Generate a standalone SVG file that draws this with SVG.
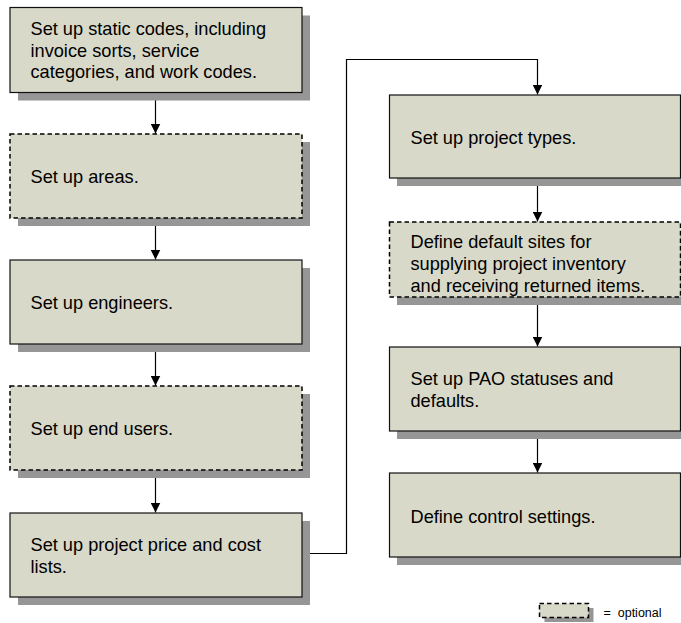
<svg xmlns="http://www.w3.org/2000/svg" width="681" height="623" viewBox="0 0 681 623">
<style>
.shadow{fill:#969696;stroke:none}
.box{fill:#d8d9c8;stroke:#111;stroke-width:1.2}
.opt{fill:#d8d9c8;stroke:#000;stroke-width:1.5;stroke-dasharray:4.5 3}
.t{font-family:"Liberation Sans",Arial,sans-serif;font-size:18.2px;fill:#000}
.leg{font-family:"Liberation Sans",Arial,sans-serif;font-size:12.5px;fill:#000}
.c{fill:none;stroke:#000;stroke-width:1.2}
</style>
<defs>
<marker id="ah" viewBox="0 0 10 10" refX="10" refY="5" markerWidth="10" markerHeight="10" markerUnits="userSpaceOnUse" orient="auto">
<path d="M0,0 L10,5 L0,10 Z" fill="#000"/>
</marker>
</defs>
<rect width="681" height="623" fill="#fff"/>

<g id="connectors">
<line class="c" x1="155.5" y1="92" x2="155.5" y2="133.5" marker-end="url(#ah)"/>
<line class="c" x1="155.5" y1="218" x2="155.5" y2="259.5" marker-end="url(#ah)"/>
<line class="c" x1="155.5" y1="344" x2="155.5" y2="385.5" marker-end="url(#ah)"/>
<line class="c" x1="155.5" y1="470" x2="155.5" y2="512.5" marker-end="url(#ah)"/>
<polyline class="c" points="302,553.5 346.5,553.5 346.5,59.5 537.5,59.5 537.5,94.5" marker-end="url(#ah)"/>
<line class="c" x1="537.5" y1="178" x2="537.5" y2="221.5" marker-end="url(#ah)"/>
<line class="c" x1="537.5" y1="297" x2="537.5" y2="346.5" marker-end="url(#ah)"/>
<line class="c" x1="537.5" y1="431" x2="537.5" y2="472.5" marker-end="url(#ah)"/>
</g>

<g id="node1">
<rect class="shadow" x="18" y="15.5" width="292" height="85"/>
<rect class="box" x="10" y="7.5" width="292" height="85"/>
<text class="t" x="30.5" y="35">Set up static codes, including</text>
<text class="t" x="30.5" y="56.5">invoice sorts, service</text>
<text class="t" x="30.5" y="78.3">categories, and work codes.</text>
</g>

<g id="node2">
<rect class="shadow" x="18" y="142" width="292" height="84"/>
<rect class="opt" x="10" y="134" width="292" height="84"/>
<text class="t" x="30.5" y="182.5">Set up areas.</text>
</g>

<g id="node3">
<rect class="shadow" x="18" y="268" width="292" height="84"/>
<rect class="box" x="10" y="260" width="292" height="84"/>
<text class="t" x="30.5" y="309">Set up engineers.</text>
</g>

<g id="node4">
<rect class="shadow" x="18" y="394" width="292" height="84"/>
<rect class="opt" x="10" y="386" width="292" height="84"/>
<text class="t" x="30.5" y="435">Set up end users.</text>
</g>

<g id="node5">
<rect class="shadow" x="18" y="521" width="292" height="84"/>
<rect class="box" x="10" y="513" width="292" height="84"/>
<text class="t" x="30.5" y="551">Set up project price and cost</text>
<text class="t" x="30.5" y="573">lists.</text>
</g>

<g id="node6">
<rect class="shadow" x="397" y="103" width="291" height="83"/>
<rect class="box" x="389.5" y="95" width="291" height="83"/>
<text class="t" x="410.5" y="144">Set up project types.</text>
</g>

<g id="node7">
<rect class="shadow" x="397" y="230" width="291" height="75"/>
<rect class="opt" x="389.5" y="222" width="291" height="75"/>
<text class="t" x="410.5" y="248">Define default sites for</text>
<text class="t" x="410.5" y="270">supplying project inventory</text>
<text class="t" x="410.5" y="292">and receiving returned items.</text>
</g>

<g id="node8">
<rect class="shadow" x="397" y="355" width="291" height="84"/>
<rect class="box" x="389.5" y="347" width="291" height="84"/>
<text class="t" x="410.5" y="385">Set up PAO statuses and</text>
<text class="t" x="410.5" y="407">defaults.</text>
</g>

<g id="node9">
<rect class="shadow" x="397" y="481" width="291" height="84"/>
<rect class="box" x="389.5" y="473" width="291" height="84"/>
<text class="t" x="410.5" y="523">Define control settings.</text>
</g>

<g id="legend">
<rect class="shadow" x="544.5" y="608" width="49" height="14"/>
<rect class="opt" x="539.5" y="603.5" width="49" height="14" stroke-dasharray="3.5 2.5"/>
<text class="leg" x="603.5" y="617" xml:space="preserve">=  optional</text>
</g>
</svg>
